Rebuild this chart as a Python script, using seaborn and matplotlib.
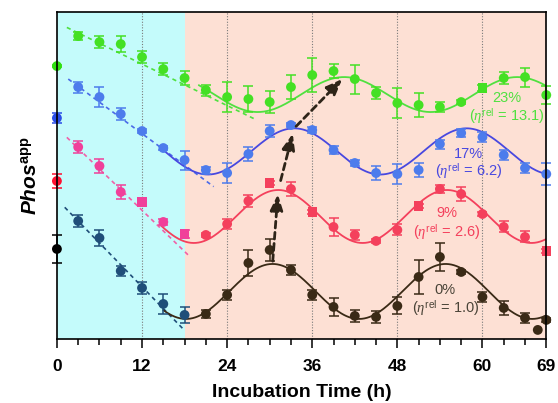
import numpy as np
import pandas as pd
import matplotlib
matplotlib.use("Agg")
import matplotlib.pyplot as plt
import seaborn as sns

# sampling times (h), every 3 h from 0 to 69
hours = list(range(0, 70, 3))

series = ["0%", "9%", "17%", "23%"]
eta_rel = ["1.0", "2.6", "6.2", "13.1"]

# apparent phosphorylation, arbitrary units
phos_0 = [90, 118, 101, 68, 51, 35, 24, 25, 44, 76, 89, 69,
          44, 32, 23, 22, 33, 62, 82, 67, 42, 31, 21, 19]
phos_9 = [158, 192, 173, 147, 137, 117, 105, 104, 115, 138, 156, 150,
          127, 112, 104, 98, 109, 133, 150, 145, 125, 112, 102, 88]
phos_17 = [221, 252, 242, 225, 208, 191, 179, 169, 166, 185, 208, 214,
           209, 189, 176, 166, 165, 169, 195, 206, 202, 184, 171, 165]
phos_23 = [273, 303, 297, 295, 282, 270, 261, 249, 242, 240, 237, 252,
           264, 268, 260, 246, 236, 234, 232, 237, 251, 261, 262, 244]

err_0 = [14, 6, 7.7, 5, 6.3, 9.7, 8.3, 4, 5.3, 12.8, 10.8, 5,
         5, 8.8, 6.3, 5.8, 8.5, 17, 13.8, 2, 5.3, 6.7, 5.3, 2]
err_9 = [7, 5.8, 7.3, 6.7, 3, 3, 4, 2, 5, 5.8, 2, 6.7,
         2, 9, 4.7, 2, 5.5, 2, 4.2, 7.3, 2, 5.5, 5.5, 2]
err_17 = [5, 5.5, 9.7, 6, 2, 2, 9.5, 3.5, 9.7, 6.7, 5.8, 2,
          3, 3.7, 3, 6.7, 10, 6.7, 4.5, 4, 5, 4.7, 4.7, 10.8]
err_23 = [1, 4, 6, 8, 6, 6, 6.7, 5.5, 15, 13, 11, 11.7,
          16.7, 7, 14.5, 6, 15, 12, 5, 2, 3, 6, 9.5, 8.7]

# one extra late sample of the 0% series
extra_hour = [67.8]
extra_phos = [9]

# square markers on some points
square_9 = [12, 18, 30, 36, 51, 69]
square_23 = [60]

# linear decay fits in the first 18 h
decay_b = [139.7, 211.3, 268.4, 316.5]
decay_m = [-7.29, -6.88, -5.25, -3.46]
decay_from = [1.1, 1.4, 1.6, 1.4]
decay_to = [17.7, 18.5, 22.1, 28.2]

# cosine fits of the oscillation
osc_mean = [47.5, 122.5, 187.6, 244.5]
osc_amp = [27.5, 26.5, 23.1, 17.5]
osc_trough = [18.2, 19.3, 21.3, 28.3]
osc_period = [24.4, 23.8, 24.3, 24.4]
osc_from = [15, 14.5, 15, 20]

c_first = ["#000000", "#ff1030", "#2a4de8", "#30e010"]
c_pre = ["#1f4e79", "#f0409a", "#4d7cec", "#44e024"]
c_post = ["#3a2a16", "#f4405c", "#4d7cec", "#44e024"]
c_fit = ["#3a2a16", "#f4405c", "#4848e0", "#50e040"]
c_dash = ["#1f4e79", "#f060a8", "#4a6ae8", "#50e040"]
c_text = ["#4a4438", "#f4405c", "#4848e0", "#50e040"]

text_x = [54.75, 55.0, 58.0, 63.4]
text_y_pct = [49, 125.7, 185, 240.7]
text_y_eta = [29.7, 105.7, 166.7, 222.3]

sns.set_theme(style="white")
plt.rcParams["font.family"] = ["Liberation Sans", "DejaVu Sans"]
plt.rcParams.update({
    "text.color": "black",
    "axes.labelcolor": "black",
    "xtick.color": "black",
    "mathtext.fontset": "custom",
    "mathtext.rm": "Liberation Sans",
    "mathtext.it": "Liberation Serif:italic",
    "mathtext.bf": "Liberation Sans:bold",
    "mathtext.bfit": "Liberation Sans:italic:bold",
})

# long table of all points
rows = []
all_phos = [phos_0, phos_9, phos_17, phos_23]
all_err = [err_0, err_9, err_17, err_23]
squares = [[], square_9, [], square_23]
for i, name in enumerate(series):
    for h, p, e in zip(hours, all_phos[i], all_err[i]):
        phase = "first" if h == 0 else ("pre" if h <= 18 else "post")
        rows.append({"hour": h, "phos": p, "err": e, "series": name,
                     "group": f"{name}-{phase}",
                     "marker": "s" if h in squares[i] else "o"})
for h, p in zip(extra_hour, extra_phos):
    rows.append({"hour": h, "phos": p, "err": 0, "series": "0%",
                 "group": "0%-post", "marker": "o"})
df = pd.DataFrame(rows)

palette = {}
for i, name in enumerate(series):
    palette[f"{name}-first"] = c_first[i]
    palette[f"{name}-pre"] = c_pre[i]
    palette[f"{name}-post"] = c_post[i]

fig, ax = plt.subplots(figsize=(5.58, 4.03), dpi=100)
fig.subplots_adjust(left=0.102, right=0.979, bottom=0.159, top=0.970)

ax.axvspan(0, 18, color="#c4fbfb", zorder=0, lw=0)
ax.axvspan(18, 69, color="#fde0d4", zorder=0, lw=0)
for v in [12, 24, 36, 48, 60]:
    ax.axvline(v, color="#7a7a7a", ls=(0, (1, 1.5)), lw=0.8, zorder=1)

for i, name in enumerate(series):
    # decay line
    xd = np.linspace(decay_from[i], decay_to[i], 50)
    ax.plot(xd, decay_b[i] + decay_m[i] * xd, color=c_dash[i],
            ls=(0, (2.5, 2.2)), lw=1.2, zorder=2)
    # oscillation fit
    xo = np.linspace(osc_from[i], 69, 300)
    yo = osc_mean[i] - osc_amp[i] * np.cos(2 * np.pi * (xo - osc_trough[i]) / osc_period[i])
    sns.lineplot(x=xo, y=yo, color=c_fit[i], lw=1.3, ax=ax, zorder=2)

    sub = df[df["series"] == name]
    for _, r in sub.iterrows():
        if r["err"] > 0:
            eb = ax.errorbar(r["hour"], r["phos"], yerr=r["err"], fmt="none",
                             ecolor=palette[r["group"]], elinewidth=1.1,
                             capsize=3.6, capthick=1.1, zorder=3)
            for art in eb.lines[1] + eb.lines[2]:
                art.set_clip_on(False)

sns.scatterplot(data=df, x="hour", y="phos", hue="group", palette=palette,
                style="marker", markers={"o": "o", "s": "s"},
                size="marker", sizes={"o": 50, "s": 44},
                edgecolor="none", legend=False, ax=ax, zorder=4, clip_on=False)

# arrows connecting the peaks of the fits
peak_x = [osc_trough[i] + osc_period[i] / 2 for i in range(4)]
peak_y = [osc_mean[i] + osc_amp[i] for i in range(4)]
shrink_a = [2, 7, 2]
shrink_b = [3, 4, 2]
for i in range(3):
    ax.annotate("", xy=(peak_x[i + 1], peak_y[i + 1]), xytext=(peak_x[i], peak_y[i]),
                arrowprops=dict(arrowstyle="-|>,head_length=0.7,head_width=0.28",
                                ls=(0, (2.4, 1.6)), lw=2.0, color="#2e2418",
                                shrinkA=shrink_a[i], shrinkB=shrink_b[i],
                                mutation_scale=14),
                zorder=5)

for i in range(4):
    ax.text(text_x[i], text_y_pct[i], series[i], color=c_text[i],
            fontsize=10.5, ha="center", va="center", zorder=6)
    ax.text(text_x[i], text_y_eta[i], rf"($\eta^{{\rm rel}}$ = {eta_rel[i]})",
            color=c_text[i], fontsize=10.5, ha="center", va="center", zorder=6)

ax.set_xlim(0, 69)
ax.set_ylim(0, 327)
ax.set_xticks([0, 12, 24, 36, 48, 60, 69])
ax.set_xticks(hours, minor=True)
ax.set_yticks([])
ax.tick_params(axis="x", which="major", direction="out", length=6.5, width=1.1,
               color="black", labelcolor="black", pad=8, labelsize=12.5, bottom=True)
ax.tick_params(axis="x", which="minor", direction="out", length=4, width=1.1,
               color="black", bottom=True)
for lab in ax.get_xticklabels():
    lab.set_fontweight("bold")
for sp in ax.spines.values():
    sp.set_color("black")
    sp.set_linewidth(1.2)
    sp.set_zorder(7)

ax.set_xlabel("Incubation Time (h)", fontsize=14, fontweight="bold", labelpad=7,
              color="black")
ax.set_ylabel(r"$\mathbfit{Phos}^{\mathbf{app}}$", fontsize=15, labelpad=12,
              color="black")

plt.savefig("out.png", dpi=100)
plt.close()
